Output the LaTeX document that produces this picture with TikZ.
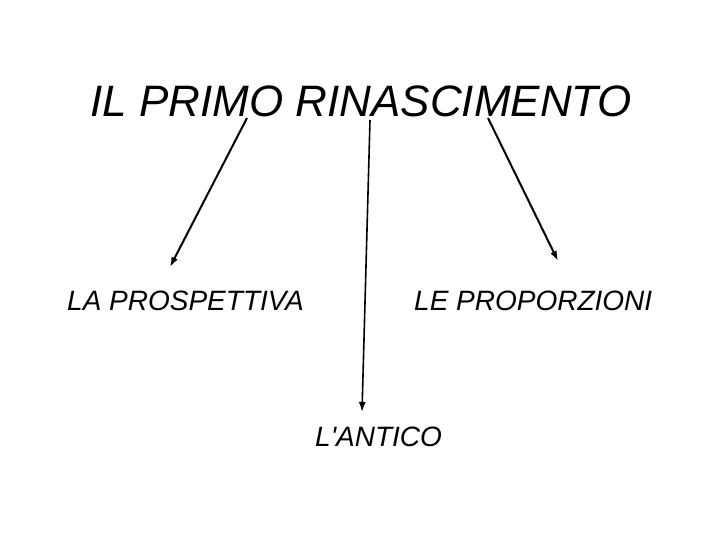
\documentclass[tikz,border=0pt]{standalone}
\usepackage{fontspec}
\setmainfont{Liberation Sans}
\usetikzlibrary{arrows.meta}
\begin{document}
\begin{tikzpicture}[x=1pt,y=-1pt,
  lbl/.style={inner sep=0pt,anchor=base west,font=\fontsize{28}{30}\selectfont\itshape},
  conn/.style={line width=2pt,-{Latex[length=10pt,width=7pt]}}]
\useasboundingbox (0,0) rectangle (720,540);
\node[inner sep=0pt,anchor=base west,font=\fontsize{44}{48}\selectfont\itshape] (title) at (90,117) {IL PRIMO RINASCIMENTO};
\node[lbl] (prosp) at (67,310) {LA PROSPETTIVA};
\node[lbl] (prop) at (414,310) {LE PROPORZIONI};
\node[lbl] (antico) at (315,446) {L\textquotesingle ANTICO};
\coordinate (s1) at (247,118);
\coordinate (e1) at (170,267);
\coordinate (s2) at (370,120);
\coordinate (e2) at (362,412);
\coordinate (s3) at (488,118);
\coordinate (e3) at (558,261);
\draw[conn] (s1) -- (e1);
\draw[conn,line width=1.6pt] (s2) -- (e2);
\draw[conn] (s3) -- (e3);
\end{tikzpicture}
\end{document}
